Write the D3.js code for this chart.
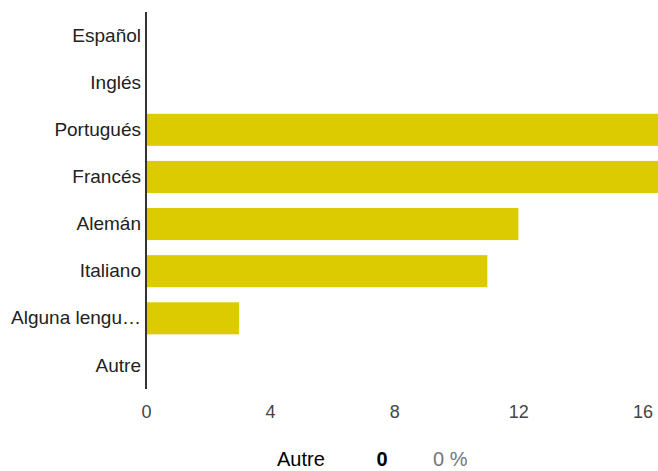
<!DOCTYPE html>
<html>
<head>
<meta charset="utf-8">
<script src="https://cdn.jsdelivr.net/npm/d3@7"></script>
<style>
  body { margin: 0; background: #fff; }
  svg { display: block; font-family: Arial, "Liberation Sans", sans-serif; }
</style>
</head>
<body>
<div id="chart"></div>
<script>
const width = 658;
const height = 471;

// données
const categories = ["Español", "Inglés", "Portugués", "Francés", "Alemán", "Italiano", "Alguna lengu…", "Autre"];
const values = [0, 0, 17, 17, 12, 11, 3, 0];
const ticks = [0, 4, 8, 12, 16];
const footer = { label: "Autre", count: "0", pct: "0 %" };

const data = categories.map((c, i) => ({ name: c, value: values[i] }));

const x = d3.scaleLinear().domain([0, 16.5]).range([146, 658]);
const y = d3.scaleBand()
    .domain(categories)
    .range([12, 389])
    .paddingInner(0.32)
    .paddingOuter(0.16);

const svg = d3.select("#chart")
    .append("svg")
    .attr("width", width)
    .attr("height", height);

svg.append("defs").append("clipPath")
    .attr("id", "clip")
    .append("rect")
    .attr("x", 146).attr("y", 0)
    .attr("width", width - 146).attr("height", 400);

// barres
svg.append("g")
    .attr("clip-path", "url(#clip)")
    .selectAll("rect")
    .data(data)
    .join("rect")
    .attr("x", x(0))
    .attr("y", d => y(d.name))
    .attr("width", d => x(d.value) - x(0))
    .attr("height", y.bandwidth())
    .attr("fill", "#dccb00");

// axe Y (libellés)
const yAxis = svg.append("g")
    .attr("transform", `translate(${x(0)},0)`)
    .call(d3.axisLeft(y).tickSize(0).tickPadding(5));
yAxis.select(".domain").remove();
yAxis.selectAll("text")
    .attr("font-size", 19)
    .attr("fill", "#222")
    .attr("font-family", null);

// axe X
const xAxis = svg.append("g")
    .attr("transform", "translate(0,400)")
    .call(d3.axisBottom(x).tickValues(ticks).tickSize(0).tickPadding(0));
xAxis.select(".domain").remove();
xAxis.selectAll("text")
    .attr("font-size", 18)
    .attr("fill", "#444")
    .attr("font-family", null)
    .attr("dy", "0.99em");

// ligne de base
svg.append("line")
    .attr("x1", x(0)).attr("x2", x(0))
    .attr("y1", 12).attr("y2", 389)
    .attr("stroke", "#333")
    .attr("stroke-width", 2);

// légende du bas
const f = svg.append("g").attr("font-size", 20);
f.append("text").attr("x", 277).attr("y", 466).attr("fill", "#000").text(footer.label);
f.append("text").attr("x", 382).attr("y", 466).attr("text-anchor", "middle")
    .attr("font-weight", "bold").attr("fill", "#000").text(footer.count);
f.append("text").attr("x", 433).attr("y", 466).attr("fill", "#757575").text(footer.pct);
</script>
</body>
</html>
